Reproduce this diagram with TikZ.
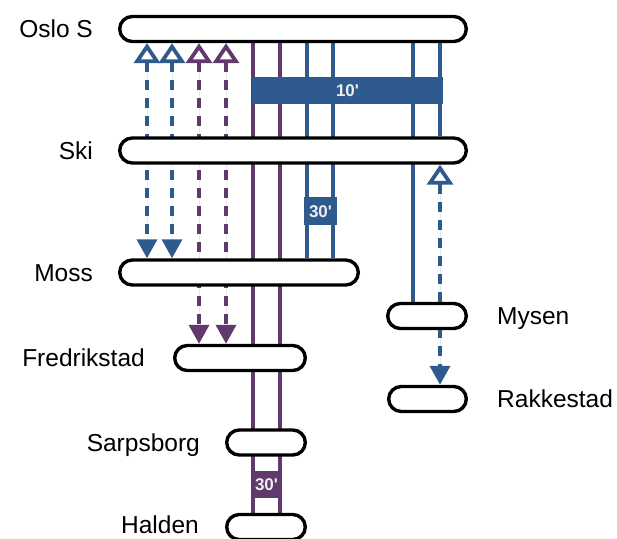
\documentclass[tikz,border=0pt]{standalone}
\usepackage{fontspec}
\setmainfont{Liberation Sans}
\usetikzlibrary{arrows.meta,backgrounds}
\definecolor{nsbblue}{RGB}{46,90,142}
\definecolor{nsbpurple}{RGB}{98,57,108}
\definecolor{boxtext}{RGB}{238,238,238}
\begin{document}
\begin{tikzpicture}[x=1pt,y=-1pt,
  bar/.style={draw=black, line width=3.4pt, fill=white, rounded corners=12.5pt,
    minimum height=25pt, inner sep=0pt},
  lbl/.style={font=\fontsize{24.5}{28}\selectfont, inner sep=0pt, text height=17.5pt, text depth=0pt},
  tbox/.style={inner sep=0pt, text=boxtext, font=\fontsize{17}{20}\selectfont\bfseries,
    text height=12.2pt, text depth=0pt},
  bsolid/.style={draw=nsbblue, line width=3.3pt},
  psolid/.style={draw=nsbpurple, line width=3.3pt},
  dline/.style={line width=3.6pt, dash pattern=on 10pt off 8pt,
    {Triangle[open, width=26pt, length=20pt, line width=3.8pt]}-{Triangle[width=20pt, length=19pt]}},
  bdash/.style={dline, draw=nsbblue, fill=nsbblue},
  pdash/.style={dline, draw=nsbpurple, fill=nsbpurple}
]
\useasboundingbox (0,0) rectangle (617,538);
\clip (0,0) rectangle (617,538);

% station bars
\node[bar, minimum width=346.6pt] (oslo)  at (293,29)    {};
\node[bar, minimum width=346.6pt] (ski)   at (293,150.5) {};
\node[bar, minimum width=238.6pt] (moss)  at (239,272.5) {};
\node[bar, minimum width=130.6pt] (fred)  at (240,358)   {};
\node[bar, minimum width=78.6pt]  (sarp)  at (266,442.5) {};
\node[bar, minimum width=78.6pt]  (hald)  at (266,527)   {};
\node[bar, minimum width=78.6pt]  (mysen) at (427,316)   {};
\node[bar, minimum width=77.6pt]  (rakk)  at (427.5,399) {};

% station labels
\node[lbl, anchor=east] (loslo) at (93,29)    {Oslo S};
\node[lbl, anchor=east] (lski)  at (93,150.5) {Ski};
\node[lbl, anchor=east] (lmoss) at (93,272.5) {Moss};
\node[lbl, anchor=east] (lfred) at (145,358)  {Fredrikstad};
\node[lbl, anchor=east] (lsarp) at (200,442.5){Sarpsborg};
\node[lbl, anchor=east] (lhald) at (199,525)  {Halden};
\node[lbl, anchor=west] (lmys)  at (497,316)  {Mysen};
\node[lbl, anchor=west] (lrak)  at (497,399)  {Rakkestad};

% connectors behind the bars
\begin{scope}[on background layer]
  % purple solid (Oslo S - Halden)
  \draw[psolid] (253,0 |- oslo.south) -- (253,0 |- hald.north);
  \draw[psolid] (280,0 |- oslo.south) -- (280,0 |- hald.north);
  % blue solid (Oslo S - Moss)
  \draw[bsolid] (307,0 |- oslo.south) -- (307,0 |- moss.north);
  \draw[bsolid] (333,0 |- oslo.south) -- (333,0 |- moss.north);
  % blue solid (Oslo S - Mysen, Oslo S - Ski)
  \draw[bsolid] (413,0 |- oslo.south) -- (413,0 |- mysen.north);
  \draw[bsolid] (440,0 |- oslo.south) -- (440,0 |- ski.north);
  % dashed
  \draw[bdash] (147,0 |- oslo.south) -- (147,0 |- moss.north);
  \draw[bdash] (172,0 |- oslo.south) -- (172,0 |- moss.north);
  \draw[pdash] (199,0 |- oslo.south) -- (199,0 |- fred.north);
  \draw[pdash] (226,0 |- oslo.south) -- (226,0 |- fred.north);
  \draw[bdash] (440,0 |- ski.south) -- (440,0 |- rakk.north);
\end{scope}

% frequency boxes
\node[tbox, fill=nsbblue, minimum width=191pt, minimum height=27pt] (f10) at (347.5,90.5) {10\textquotesingle};
\node[tbox, fill=nsbblue, minimum width=33pt, minimum height=28pt] (f30b) at (320.5,211) {30\textquotesingle};
\node[tbox, fill=nsbpurple, minimum width=31pt, minimum height=27pt] (f30p) at (266.5,484.5) {30\textquotesingle};
\end{tikzpicture}
\end{document}
